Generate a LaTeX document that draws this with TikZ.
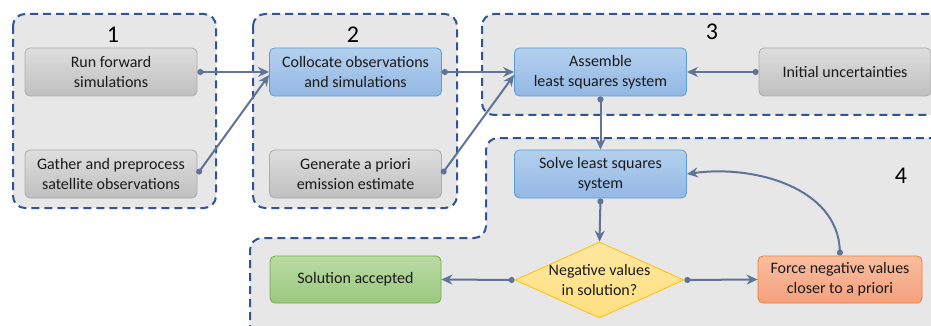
\documentclass[tikz,border=0pt]{standalone}
\usepackage{fontspec}
\setmainfont{Carlito}
\usetikzlibrary{arrows.meta,shapes.geometric}
\definecolor{grpfill}{HTML}{E7E7E7}
\definecolor{grpline}{HTML}{2F5597}
\definecolor{conn}{HTML}{5F7497}
\definecolor{txt}{HTML}{1A1A1A}
\definecolor{HTML5B9BD5}{HTML}{5B9BD5}
\definecolor{HTMLB4D0EE}{HTML}{B4D0EE}
\definecolor{HTML93B8E4}{HTML}{93B8E4}
\definecolor{HTML70AD47}{HTML}{70AD47}
\definecolor{HTMLB9DBA3}{HTML}{B9DBA3}
\definecolor{HTML9BC77F}{HTML}{9BC77F}
\definecolor{HTMLED7D31}{HTML}{ED7D31}
\definecolor{HTMLF9BE9F}{HTML}{F9BE9F}
\definecolor{HTMLF4A07D}{HTML}{F4A07D}
\definecolor{HTMLFFE7A0}{HTML}{FFE7A0}
\definecolor{dfill}{HTML}{FFDF80}
\definecolor{dline}{HTML}{FFC000}
\tikzset{
  grp/.style={draw=grpline, fill=grpfill, line width=2pt, dash pattern=on 8pt off 5pt, rounded corners=12pt},
  box/.style={minimum width=172pt, minimum height=48pt, inner sep=2pt, align=center, rounded corners=5pt, line width=0.8pt, font=\fontsize{16}{20}\selectfont, text=txt},
  graybox/.style={box, draw=gray!65, top color=black!13, bottom color=black!25},
  bluebox/.style={box, draw=HTML5B9BD5, top color=HTMLB4D0EE, bottom color=HTML93B8E4},
  greenbox/.style={box, draw=HTML70AD47, top color=HTMLB9DBA3, bottom color=HTML9BC77F},
  orangebox/.style={box, draw=HTMLED7D31, top color=HTMLF9BE9F, bottom color=HTMLF4A07D},
  num/.style={font=\fontsize{24}{24}\selectfont, text=black},
  conn/.style={draw=conn, line width=2pt, {Circle[length=6pt]}-{Stealth[length=11pt,width=10pt]}},
}
\begin{document}
\begin{tikzpicture}[x=1pt,y=-1pt]
\useasboundingbox (0,0) rectangle (931,326);
\clip (0,0) rectangle (931,326);
\fill[white] (0,0) rectangle (931,326);
% groups
\draw[grp] (13,14) rectangle (216,208);
\draw[grp] (253,14) rectangle (457,208);
\draw[grp] (482,14) rectangle (950,115);
\draw[grp] (250,345) -- (250,238) -- (486,238) -- (486,138) -- (950,138) -- (950,345) -- cycle;
% numbers
\node[num] (n1) at (113,35) {1};
\node[num] (n2) at (353,35) {2};
\node[num] (n3) at (712,32) {3};
\node[num] (n4) at (901,176) {4};
% boxes
\node[graybox] (run) at (111,72) {Run forward\\simulations};
\node[graybox] (gather) at (111,174) {Gather and preprocess\\satellite observations};
\node[bluebox] (coll) at (355.5,72) {Collocate observations\\and simulations};
\node[graybox] (gen) at (355.5,174) {Generate a priori\\emission estimate};
\node[bluebox] (asm) at (600.5,72) {Assemble\\least squares system};
\node[graybox] (init) at (845,72) {Initial uncertainties};
\node[bluebox] (solve) at (600.5,174) {Solve least squares\\system};
\node[diamond, draw=dline, line width=0.8pt, top color=HTMLFFE7A0, bottom color=dfill, minimum width=169pt, minimum height=76pt, inner sep=0pt,
  label={[font=\fontsize{16}{20}\selectfont, text=txt, align=center]center:Negative values\\in solution?}] (dec) at (599.5,280) {};
\node[greenbox, minimum width=171pt, minimum height=47pt] (acc) at (355.5,279.5) {Solution accepted};
\node[orangebox, minimum width=164pt, minimum height=47pt] (force) at (840,279.5) {Force negative values\\closer to a priori};
% connectors
\draw[conn] (run.east) -- (coll.west);
\draw[conn] (gather.east) -- ([yshift=-3pt]coll.west);
\draw[conn] (coll.east) -- (asm.west);
\draw[conn] (gen.east) -- ([yshift=-3pt]asm.west);
\draw[conn] (init.west) -- (asm.east);
\draw[conn] (asm.south) -- (solve.north);
\draw[conn] (solve.south) -- (dec.north);
\draw[conn] (dec.west) -- (acc.east);
\draw[conn] (dec.east) -- (force.west);
\draw[conn] (force.north) to[out=92,in=8] (solve.east);
\end{tikzpicture}
\end{document}
